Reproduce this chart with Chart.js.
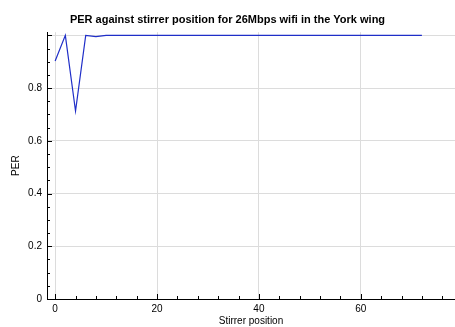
<!DOCTYPE html>
<html>
<head>
<meta charset="utf-8">
<script src="https://cdn.jsdelivr.net/npm/chart.js@4/dist/chart.umd.min.js"></script>
<style>
  html, body { margin: 0; padding: 0; background: #fff; }
  #wrap { width: 455px; height: 327px; }
</style>
</head>
<body>
<div id="wrap"><canvas id="perchart"></canvas></div>
<script>
/* PER contra posicao do agitador */

const stirrerPositions = [
  0, 2, 4, 6, 8, 10, 12, 14, 16, 18, 20, 22, 24, 26, 28, 30, 32, 34, 36,
  38, 40, 42, 44, 46, 48, 50, 52, 54, 56, 58, 60, 62, 64, 66, 68, 70, 72
];
const perValues = [
  0.903, 1.0, 0.713, 1.0, 0.995, 1.0, 1.0, 1.0, 1.0, 1.0, 1.0, 1.0, 1.0, 1.0, 1.0, 1.0, 1.0, 1.0, 1.0,
  1.0, 1.0, 1.0, 1.0, 1.0, 1.0, 1.0, 1.0, 1.0, 1.0, 1.0, 1.0, 1.0, 1.0, 1.0, 1.0, 1.0, 1.0
];
const xTickValues = [0, 20, 40, 60];
const yTickValues = [0, 0.2, 0.4, 0.6, 0.8, 1.0];
const yTickLabels = ['0', '0.2', '0.4', '0.6', '0.8', ''];

const fontFamily = '"Liberation Sans", Arial, Helvetica, sans-serif';

// marquinhas dos ticks (dentro do grafico)
const tickMarks = {
  id: 'tickMarks',
  afterDraw(chart) {
    const ctx = chart.ctx;
    const xs = chart.scales.x;
    const ys = chart.scales.y;
    const area = chart.chartArea;
    ctx.save();
    ctx.strokeStyle = '#000';
    ctx.lineWidth = 1;
    ctx.beginPath();
    for (let v = 0; v <= 1.0001; v += 0.05) {
      const py = Math.round(ys.getPixelForValue(v)) + 0.5;
      const major = Math.abs(v * 5 - Math.round(v * 5)) < 1e-6;
      ctx.moveTo(area.left, py);
      ctx.lineTo(area.left + (major ? 5 : 3), py);
    }
    for (let v = 0; v <= 76; v += 4) {
      const px = Math.round(xs.getPixelForValue(v)) + 0.5;
      const major = v % 20 === 0;
      ctx.moveTo(px, area.bottom);
      ctx.lineTo(px, area.bottom - (major ? 5 : 3));
    }
    ctx.stroke();
    ctx.restore();
  }
};

const dataper = {
  datasets: [{
    label: 'PER',
    data: stirrerPositions.map((x, i) => ({ x: x, y: perValues[i] })),
    borderColor: '#1f2ec8',
    backgroundColor: '#1f2ec8',
    borderWidth: 1.2,
    pointRadius: 0,
    tension: 0,
    fill: false
  }]
};

const configper = {
  type: 'line',
  data: dataper,
  plugins: [tickMarks],
  options: {
    responsive: true,
    maintainAspectRatio: false,
    animation: false,
    layout: { padding: { left: 0, right: 0, top: 0, bottom: 0 } },
    plugins: {
      legend: { display: false },
      tooltip: { enabled: false },
      title: {
        display: true,
        text: 'PER against stirrer position for 26Mbps wifi in the York wing',
        color: '#000',
        font: { family: fontFamily, size: 11, weight: 'bold' },
        padding: { top: 13, bottom: 6 }
      }
    },
    scales: {
      x: {
        type: 'linear',
        min: -1.6,
        max: 78.5,
        afterBuildTicks: (s) => { s.ticks = xTickValues.map(v => ({ value: v })); },
        afterFit: (s) => { s.height = 28; },
        border: { display: true, color: '#000', width: 1 },
        grid: { color: '#dcdcdc', lineWidth: 1, drawTicks: false },
        ticks: {
          color: '#000',
          padding: 4,
          maxRotation: 0,
          font: { family: fontFamily, size: 10 }
        },
        title: {
          display: true,
          text: 'Stirrer position',
          color: '#000',
          padding: { top: 0, bottom: 0 },
          font: { family: fontFamily, size: 10 }
        }
      },
      y: {
        type: 'linear',
        min: 0,
        max: 1.012,
        afterBuildTicks: (s) => { s.ticks = yTickValues.map(v => ({ value: v })); },
        afterFit: (s) => { s.width = 47; },
        border: { display: true, color: '#000', width: 1 },
        grid: { color: '#dcdcdc', lineWidth: 1, drawTicks: false },
        ticks: {
          color: '#000',
          padding: 5,
          font: { family: fontFamily, size: 10 },
          callback: (v, i) => yTickLabels[i]
        },
        title: {
          display: true,
          text: 'PER',
          color: '#000',
          padding: { top: 10, bottom: 0 },
          font: { family: fontFamily, size: 10 }
        }
      }
    }
  }
};

const chartper = new Chart(
  document.getElementById('perchart'),
  configper
);
</script>
</body>
</html>
